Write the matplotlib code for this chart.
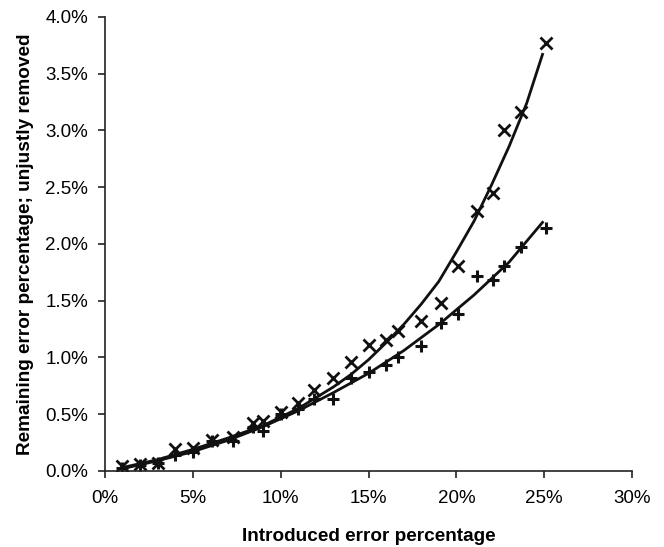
import matplotlib.pyplot as plt
from matplotlib.ticker import FuncFormatter

plt.rcParams['font.family'] = ['Liberation Sans', 'DejaVu Sans']

# introduced error (%) for both series
introduced = [1.0, 2.0, 3.0, 4.0, 5.0, 6.1, 7.3, 8.4, 9.0, 10.0, 11.0, 11.9,
              13.0, 14.0, 15.0, 16.0, 16.7, 18.0, 19.1, 20.1, 21.2, 22.1,
              22.7, 23.7, 25.1]

# remaining error (%), 'x' markers
remaining = [0.04, 0.06, 0.07, 0.19, 0.20, 0.27, 0.30, 0.42, 0.44, 0.52, 0.60, 0.71,
             0.82, 0.96, 1.11, 1.15, 1.23, 1.32, 1.48, 1.81, 2.29, 2.45,
             3.00, 3.16, 3.77]

# unjustly removed (%), '+' markers
unjust = [0.03, 0.05, 0.07, 0.14, 0.17, 0.26, 0.26, 0.39, 0.35, 0.50, 0.55, 0.63,
          0.63, 0.82, 0.87, 0.93, 1.00, 1.10, 1.30, 1.38, 1.72, 1.68,
          1.81, 1.97, 2.14]

# fitted curves
upper_x = [1, 3, 5, 7, 9, 11, 13, 14, 15, 16, 17, 18, 19, 20, 21, 22, 23, 24, 24.9]
upper_y = [0.03, 0.10, 0.19, 0.29, 0.40, 0.55, 0.74, 0.85, 0.98, 1.13, 1.29, 1.47,
           1.67, 1.93, 2.20, 2.52, 2.86, 3.24, 3.67]
lower_x = [1, 3, 5, 7, 9, 11, 13, 15, 17, 19, 21, 23, 24.9]
lower_y = [0.02, 0.09, 0.17, 0.27, 0.39, 0.53, 0.69, 0.86, 1.06, 1.29, 1.55, 1.84, 2.19]

fig = plt.figure(figsize=(6.64, 5.47), dpi=100)
ax = fig.add_axes([0.158, 0.139, 0.794, 0.830])

ax.plot(upper_x, upper_y, color='#111111', lw=2.0)
ax.plot(lower_x, lower_y, color='#111111', lw=2.0)
ax.plot(introduced, remaining, linestyle='none', marker='x', ms=9, mew=2.0, color='#111111')
ax.plot(introduced, unjust, linestyle='none', marker='+', ms=8, mew=2.2, color='#111111')

ax.set_xlim(0, 30)
ax.set_ylim(0, 4.0)
ax.set_xticks(range(0, 31, 5))
ax.set_yticks([i * 0.5 for i in range(9)])
ax.xaxis.set_major_formatter(FuncFormatter(lambda v, p: f'{v:.0f}%'))
ax.yaxis.set_major_formatter(FuncFormatter(lambda v, p: f'{v:.1f}%'))

for side in ('top', 'right'):
    ax.spines[side].set_visible(False)
for side in ('left', 'bottom'):
    ax.spines[side].set_linewidth(1.2)
    ax.spines[side].set_color('#222222')

ax.tick_params(direction='out', length=5, width=1.2, labelsize=13.5, color='#222222')
ax.tick_params(axis='x', pad=9)
ax.tick_params(axis='y', pad=7)

ax.set_xlabel('Introduced error percentage', fontsize=13.7, fontweight='bold', labelpad=15)
ax.set_ylabel('Remaining error percentage; unjustly removed', fontsize=13.7, fontweight='bold', labelpad=8)

fig.savefig('out.png', dpi=100)
